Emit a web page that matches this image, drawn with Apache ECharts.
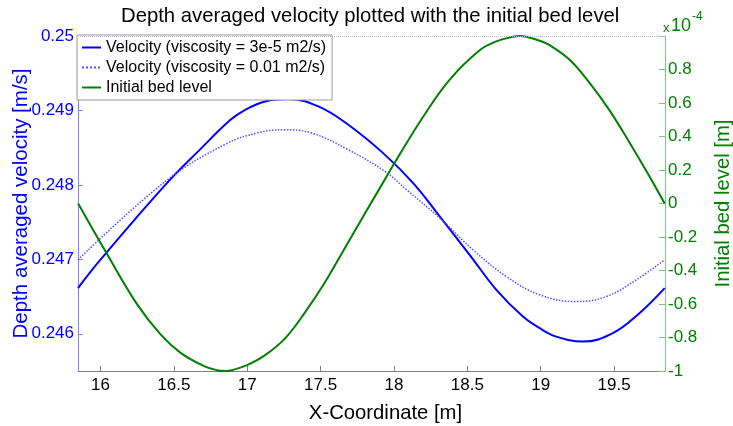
<!DOCTYPE html>
<html><head><meta charset="utf-8">
<script src="https://cdn.jsdelivr.net/npm/echarts@6/dist/echarts.min.js"></script>
<style>html,body{margin:0;padding:0;background:#fff}#c{width:733px;height:426px}</style>
</head><body><div id="c"></div>
<script>
// ---- data ----
const xTicks = [16, 16.5, 17, 17.5, 18, 18.5, 19, 19.5];
const velTicks = [0.246, 0.247, 0.248, 0.249, 0.25];

const xSolid = [15.847, 16.0, 16.442, 16.681, 16.884, 16.986, 17.122, 17.281, 17.485, 17.689, 17.930, 18.131, 18.313, 18.517, 18.698, 18.879, 18.993, 19.106, 19.287, 19.492, 19.673, 19.845];
const velSolid = [0.246613, 0.246995, 0.248001, 0.248480, 0.248870, 0.249009, 0.249121, 0.249153, 0.249054, 0.248808, 0.248420, 0.248024, 0.247574, 0.247058, 0.246590, 0.246231, 0.246075, 0.245962, 0.245895, 0.246008, 0.246277, 0.246613];

const xDotted = [15.847, 16.442, 16.850, 17.074, 17.258, 17.440, 17.689, 17.939, 18.086, 18.313, 18.539, 18.766, 18.993, 19.243, 19.447, 19.651, 19.845];
const velDotted = [0.246993, 0.248046, 0.248545, 0.248700, 0.248741, 0.248696, 0.248472, 0.248180, 0.247934, 0.247554, 0.247128, 0.246769, 0.246523, 0.246433, 0.246500, 0.246724, 0.246993];

// bed level in units of 1e-4 m
const xBed = [15.848, 16.045, 16.249, 16.408, 16.544, 16.702, 16.794, 16.850, 16.896, 16.998, 17.122, 17.258, 17.394, 17.530, 17.666, 17.802, 17.939, 18.006, 18.199, 18.380, 18.584, 18.698, 18.811, 18.860, 18.902, 18.993, 19.061, 19.197, 19.333, 19.469, 19.605, 19.719, 19.845];
const bedE4 = [0.0, -0.302, -0.601, -0.780, -0.890, -0.969, -0.995, -1.0, -0.995, -0.965, -0.905, -0.805, -0.650, -0.470, -0.265, -0.060, 0.145, 0.245, 0.518, 0.740, 0.915, 0.968, 0.995, 1.0, 0.995, 0.972, 0.945, 0.858, 0.720, 0.556, 0.364, 0.195, 0.0];

const names = ['Velocity (viscosity = 3e-5 m2/s)', 'Velocity (viscosity = 0.01 m2/s)', 'Initial bed level'];

const FONT = '"Liberation Sans", Arial, Helvetica, sans-serif';
const pairs = (xs, ys) => xs.map((x, i) => [x, ys[i]]);

const chart = echarts.init(document.getElementById('c'), null, {renderer: 'canvas'});
chart.setOption({
  animation: false,
  backgroundColor: '#fff',
  title: {
    text: 'Depth averaged velocity plotted with the initial bed level',
    left: 121, top: 0, padding: [6, 0, 0, 0],
    textStyle: {fontFamily: FONT, fontSize: 20.3, fontWeight: 'normal', color: '#000'}
  },
  grid: {left: 78, right: 68, top: 36, bottom: 55, containLabel: false, outerBoundsMode: 'none'},
  legend: {
    data: names, orient: 'vertical', left: 77, top: 35,
    padding: [3, 6, 3, 4], itemGap: 1, itemWidth: 19, itemHeight: 2,
    itemStyle: {opacity: 0},
    backgroundColor: '#fff', borderColor: '#9a9a9a', borderWidth: 1,
    textStyle: {fontFamily: FONT, fontSize: 16, color: '#000', lineHeight: 19}
  },
  xAxis: {
    type: 'value', min: 15.847, max: 19.847,
    name: 'X-Coordinate [m]', nameLocation: 'middle', nameGap: 32, nameMoveOverlap: false,
    nameTextStyle: {fontFamily: FONT, fontSize: 20.3, color: '#000', padding: [0, 0, 0, 28]},
    axisLine: {show: true, onZero: false, lineStyle: {color: '#808080', width: 1}},
    axisTick: {show: true, inside: true, length: 5, customValues: xTicks, lineStyle: {color: '#808080'}},
    axisLabel: {customValues: xTicks, margin: 6, fontFamily: FONT, fontSize: 17, color: '#000', formatter: v => String(v)},
    splitLine: {show: false}
  },
  yAxis: [{
    type: 'value', position: 'left', min: 0.2455, max: 0.25,
    name: 'Depth averaged velocity [m/s]', nameLocation: 'middle', nameGap: 46, nameMoveOverlap: false,
    nameTextStyle: {fontFamily: FONT, fontSize: 20.5, color: '#0000ff'},
    axisLine: {show: true, lineStyle: {color: '#8080ff', width: 1}},
    axisTick: {show: true, inside: true, length: 5, customValues: velTicks, lineStyle: {color: '#8080ff'}},
    axisLabel: {customValues: velTicks, margin: 4, fontFamily: FONT, fontSize: 17, color: '#0000ff', formatter: v => String(v)},
    splitLine: {show: false}
  }, {
    type: 'value', position: 'right', min: -1, max: 1, interval: 0.2,
    name: 'Initial bed level [m]', nameLocation: 'middle', nameGap: 48, nameMoveOverlap: false,
    nameTextStyle: {fontFamily: FONT, fontSize: 20.3, color: '#008000'},
    axisLine: {show: true, lineStyle: {color: '#80c080', width: 1}},
    axisTick: {show: true, inside: true, length: 6, lineStyle: {color: '#80c080'}},
    axisLabel: {margin: 3, fontFamily: FONT, fontSize: 17, color: '#008000',
      formatter: v => (Math.abs(v - 1) < 1e-9 ? '' : String(+v.toFixed(1)))},
    splitLine: {show: false}
  }],
  graphic: [
    {type: 'text', left: 663, top: 22, style: {text: 'x', fontFamily: FONT, fontSize: 13, fill: '#008000'}},
    {type: 'text', left: 671, top: 17, style: {text: '10', fontFamily: FONT, fontSize: 18, fill: '#008000'}},
    {type: 'text', left: 692, top: 11, style: {text: '-4', fontFamily: FONT, fontSize: 12, fill: '#008000'}}
  ],
  series: [{
    name: names[0], type: 'line', yAxisIndex: 0, data: pairs(xSolid, velSolid),
    symbol: 'none', showSymbol: false, smooth: 0.4, z: 3,
    lineStyle: {color: '#0000ff', width: 2}, itemStyle: {color: '#0000ff'},
    markLine: {
      silent: true, symbol: 'none', label: {show: false}, animation: false,
      lineStyle: {color: '#b8b8f4', type: 'dotted', width: 1},
      data: velTicks.map(v => ({yAxis: v}))
    }
  }, {
    name: names[1], type: 'line', yAxisIndex: 0, data: pairs(xDotted, velDotted),
    symbol: 'none', showSymbol: false, smooth: 0.4, z: 3,
    lineStyle: {color: '#5050ff', width: 1.5, type: 'dotted'}, itemStyle: {color: '#5050ff'}
  }, {
    name: names[2], type: 'line', yAxisIndex: 1, data: pairs(xBed, bedE4),
    symbol: 'none', showSymbol: false, smooth: 0.4, z: 3,
    lineStyle: {color: '#008000', width: 2}, itemStyle: {color: '#008000'}
  }]
});
</script></body></html>
